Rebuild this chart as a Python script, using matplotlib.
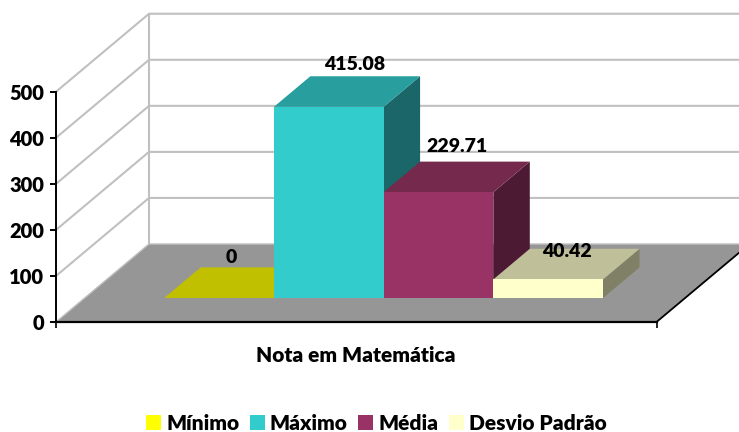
import matplotlib
matplotlib.use("Agg")
import matplotlib.pyplot as plt
from matplotlib.patches import Polygon, Patch

# ---- data ----
categories = ["Nota em Matemática"]
series_names = ["Mínimo", "Máximo", "Média", "Desvio Padrão"]
series_values = [0, 415.08, 229.71, 40.42]
value_labels = ["0", "415.08", "229.71", "40.42"]
y_ticks = [0, 100, 200, 300, 400, 500]

# ---- styles ----
W, H = 739, 432
FONT = "Lato"
WEIGHT = "heavy"
front_cols = ["#C0C000", "#33CCCC", "#993366", "#FFFFCC"]
top_cols = ["#C0C000", "#299E9E", "#74294D", "#BFBF99"]
side_cols = ["#808000", "#1B6669", "#4D1A33", "#808066"]
legend_cols = ["#FFFF00", "#33CCCC", "#993366", "#FFFFCC"]
GRID = "#C0C0C0"
FLOOR = "#969696"

# geometry of the plot box, in pixels
X0_PX, X_LEN_PX = 56.0, 600.5
Y0_PX, PX_PER_VAL = 322.0, 0.4605
DEPTH_DX, DEPTH_DY = 93.0, 78.0
BAR_GAP, BAR_W = 0.1325, 0.1827
BAR_D0, BAR_D1 = 0.3077, 0.70

fig = plt.figure(figsize=(W / 100, H / 100), dpi=100)
ax = fig.add_axes([0, 0, 1, 1])
ax.set_xlim(-X0_PX / X_LEN_PX, (W - X0_PX) / X_LEN_PX)
ax.set_ylim((Y0_PX - H) / PX_PER_VAL, Y0_PX / PX_PER_VAL)
ax.patch.set_visible(False)


def P(x, v, d):
    """Oblique projection of (category position, value, depth) to data coords."""
    return (x + d * DEPTH_DX / X_LEN_PX, v + d * DEPTH_DY / PX_PER_VAL)


vmax = y_ticks[-1]

# walls
for t in y_ticks[1:]:
    ax.plot(*zip(P(0, t, 0), P(0, t, 1), P(1.2, t, 1)), color=GRID, lw=1.5, zorder=1,
            solid_joinstyle="miter")
ax.plot(*zip(P(0, 0, 1), P(0, vmax, 1)), color=GRID, lw=1.5, zorder=1)

# floor
ax.add_patch(Polygon([P(0, 0, 0), P(1, 0, 0), P(1, 0, 1), P(0, 0, 1)], closed=True,
                     facecolor=FLOOR, edgecolor="none", zorder=2))
ax.plot(*zip(P(0, 0, 0), P(0, 0, 1), P(1.2, 0, 1)), color=GRID, lw=1.0, zorder=2)
ax.plot(*zip(P(1, 0, 0), P(1, 0, 1)), color="black", lw=1.3, zorder=3)

# bars
for i, v in enumerate(series_values):
    xa = BAR_GAP + i * BAR_W
    xb = xa + BAR_W
    z = 4 + i
    ax.add_patch(Polygon([P(xb, 0, BAR_D0), P(xb, 0, BAR_D1), P(xb, v, BAR_D1), P(xb, v, BAR_D0)],
                         closed=True, facecolor=side_cols[i], edgecolor="none", zorder=z))
    ax.add_patch(Polygon([P(xa, v, BAR_D0), P(xb, v, BAR_D0), P(xb, v, BAR_D1), P(xa, v, BAR_D1)],
                         closed=True, facecolor=top_cols[i], edgecolor="none", zorder=z))
    if v > 0:
        ax.bar(xa, v, width=BAR_W, align="edge", bottom=0, color=front_cols[i], zorder=z,
               transform=ax.transData + matplotlib.transforms.Affine2D().translate(
                   BAR_D0 * DEPTH_DX, BAR_D0 * DEPTH_DY))

# data labels
label_dx_px = [12.5, 26, 18.5, 19]
label_dy_px = [10, 12, 15, -3]
for i, (v, s) in enumerate(zip(series_values, value_labels)):
    xa = BAR_GAP + i * BAR_W
    x, y = P(xa + BAR_W / 2, v, BAR_D1)
    x_f, _ = P(xa + BAR_W / 2, v, BAR_D0)
    ax.text(x_f + label_dx_px[i] / X_LEN_PX, y + label_dy_px[i] / PX_PER_VAL, s,
            ha="center", va="center", fontsize=14, fontweight=WEIGHT, family=FONT,
            color="black", zorder=20)

# axes
for s in ("top", "right"):
    ax.spines[s].set_visible(False)
ax.spines["left"].set_position(("data", 0))
ax.spines["left"].set_bounds(0, vmax)
ax.spines["bottom"].set_position(("data", 0))
ax.spines["bottom"].set_bounds(0, 1)
ax.spines["left"].set_linewidth(1.4)
ax.spines["bottom"].set_linewidth(1.6)
ax.spines["left"].set_zorder(15)
ax.spines["bottom"].set_zorder(15)
ax.set_yticks(y_ticks)
ax.set_yticklabels([str(t) for t in y_ticks], fontsize=14.5, fontweight=WEIGHT, family=FONT)
ax.tick_params(axis="y", length=4, width=1.4, pad=4.5)
ax.set_xticks([0, 1])
ax.set_xticklabels(["", ""])
ax.set_xticks([0.5], minor=True)
ax.set_xticklabels(categories, minor=True, fontsize=15, fontweight=WEIGHT, family=FONT)
ax.tick_params(axis="x", which="major", length=4, width=1.2)
ax.tick_params(axis="x", which="minor", length=0, pad=17)

# legend
handles = [Patch(facecolor=c, edgecolor="none", label=n) for c, n in zip(legend_cols, series_names)]
ax.legend(handles=handles, loc="lower left", bbox_to_anchor=(146 / W, -1 / H), ncol=4, frameon=False,
          borderpad=0, borderaxespad=0, handlelength=0.72, handleheight=0.72, handletextpad=0.25,
          columnspacing=0.5, prop={"family": FONT, "weight": WEIGHT, "size": 15})

fig.savefig("out.png", dpi=100)
